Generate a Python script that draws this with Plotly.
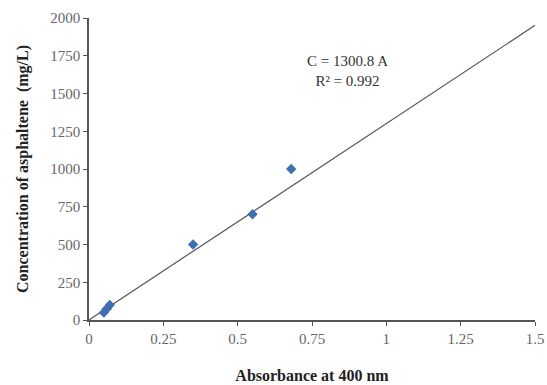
import plotly.graph_objects as go

absorbance = [0.05, 0.06, 0.07, 0.35, 0.55, 0.68]
concentration = [50, 75, 100, 500, 700, 1000]
slope = 1300.8
fit_x = [0, 1.5]
fit_y = [slope * v for v in fit_x]
x_ticks = [0, 0.25, 0.5, 0.75, 1, 1.25, 1.5]
x_tick_text = ["0", "0.25", "0.5", "0.75", "1", "1.25", "1.5"]
y_ticks = [0, 250, 500, 750, 1000, 1250, 1500, 1750, 2000]

font = "Liberation Serif, Times New Roman, serif"

fig = go.Figure()
fig.add_trace(go.Scatter(x=fit_x, y=fit_y, mode="lines",
                         line=dict(color="#555555", width=1.2), showlegend=False))
fig.add_trace(go.Scatter(x=absorbance, y=concentration, mode="markers",
                         marker=dict(symbol="diamond", size=8, color="#3f6fb0"),
                         showlegend=False))

fig.add_annotation(x=0.87, y=1650, text="C = 1300.8 A<br>R² = 0.992", showarrow=False,
                   font=dict(family=font, size=15, color="#333"), align="center")

fig.update_layout(
    width=547, height=385,
    margin=dict(l=89, r=12, t=18, b=65),
    paper_bgcolor="white", plot_bgcolor="white",
    font=dict(family=font, size=15, color="#666"),
    xaxis=dict(range=[0, 1.5], tickvals=x_ticks, ticktext=x_tick_text,
               ticklabeloverflow="allow", automargin=False,
               showgrid=False, zeroline=False, showline=True, linecolor="#555",
               linewidth=1.5, ticks="outside", ticklen=4, tickcolor="#555",
               title=dict(text="<b>Absorbance at 400 nm</b>", font=dict(family=font, size=16, color="#222"), standoff=24)),
    yaxis=dict(range=[0, 2000], tickvals=y_ticks, automargin=False,
               showgrid=False, zeroline=False, showline=True, linecolor="#555",
               linewidth=1.5, ticks="outside", ticklen=4, tickcolor="#555",
               title=dict(text="<b>Concentration of asphaltene  (mg/L)</b>", font=dict(family=font, size=16, color="#222"), standoff=18)),
)

fig.write_html("out.html", config={"displayModeBar": False},
               post_script="document.body.style.margin='0';document.body.style.overflow='hidden';")
